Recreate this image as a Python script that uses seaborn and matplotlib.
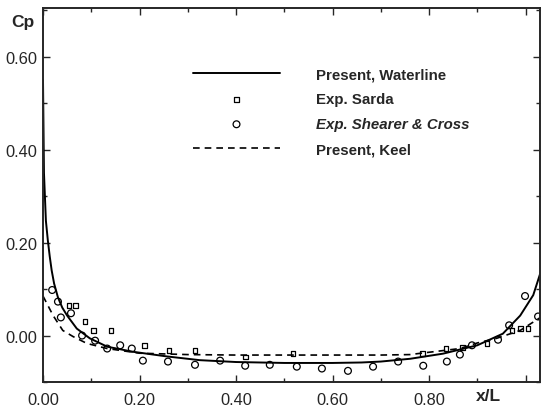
import matplotlib
matplotlib.use('Agg')
import matplotlib.pyplot as plt
import seaborn as sns
import pandas as pd
import numpy as np
from matplotlib.ticker import MultipleLocator, FixedLocator, FixedFormatter

# present computation, waterline
wl_x = [0.0, 0.002, 0.006, 0.010, 0.014, 0.018, 0.023, 0.031, 0.04, 0.05, 0.07, 0.097,
        0.133, 0.187, 0.257, 0.325, 0.40, 0.50, 0.60, 0.66, 0.70, 0.761, 0.829, 0.90,
        0.953, 0.989, 1.016, 1.034]
wl_cp = [0.55, 0.35, 0.247, 0.205, 0.17, 0.14, 0.112, 0.082, 0.06, 0.043, 0.015, -0.006,
         -0.024, -0.035, -0.045, -0.053, -0.057, -0.059, -0.059, -0.058, -0.056, -0.05,
         -0.039, -0.021, 0.004, 0.043, 0.087, 0.145]

# present computation, keel
keel_x = [0.0, 0.008, 0.021, 0.041, 0.062, 0.091, 0.133, 0.2, 0.3, 0.4, 0.5, 0.6,
          0.7, 0.76, 0.80, 0.864, 0.90, 0.94, 0.989, 1.034]
keel_cp = [0.085, 0.069, 0.043, 0.011, -0.002, -0.017, -0.028, -0.038, -0.041, -0.042,
           -0.042, -0.042, -0.042, -0.041, -0.036, -0.028, -0.016, -0.006, 0.011, 0.041]

# experiments, Sarda
sarda_x = [0.054, 0.068, 0.087, 0.104, 0.141, 0.211, 0.261, 0.315, 0.419, 0.518,
           0.786, 0.835, 0.87, 0.92, 0.972, 0.989, 1.005]
sarda_cp = [0.065, 0.065, 0.03, 0.011, 0.011, -0.021, -0.033, -0.033, -0.046, -0.039,
            -0.039, -0.028, -0.026, -0.017, 0.011, 0.015, 0.015]

# experiments, Shearer & Cross
sc_x = [0.019, 0.031, 0.037, 0.058, 0.081, 0.108, 0.133, 0.16, 0.184, 0.207, 0.259,
        0.315, 0.367, 0.419, 0.47, 0.526, 0.578, 0.632, 0.684, 0.736, 0.788, 0.837,
        0.864, 0.889, 0.943, 0.966, 0.999, 1.026]
sc_cp = [0.098, 0.073, 0.039, 0.048, 0.0, -0.011, -0.028, -0.021, -0.028, -0.054, -0.056,
         -0.063, -0.054, -0.065, -0.063, -0.067, -0.071, -0.076, -0.067, -0.056, -0.065, -0.056,
         -0.041, -0.021, -0.009, 0.022, 0.085, 0.041]

xticks = [0.0, 0.2, 0.4, 0.6, 0.8, 1.0]
xticklabels = ['0.00', '0.20', '0.40', '0.60', '0.80', '']
yticks = [0.0, 0.2, 0.4, 0.6]
yticklabels = ['0.00', '0.20', '0.40', '0.60']

sns.set_style('ticks')
plt.rcParams['font.family'] = ['Liberation Sans', 'DejaVu Sans']

fig = plt.figure(figsize=(5.42, 4.10), dpi=100)
ax = fig.add_axes([43 / 542, 1 - 383 / 410, (540 - 43) / 542, (383 - 9) / 410])

wl = pd.DataFrame({'x': wl_x, 'cp': wl_cp})
keel = pd.DataFrame({'x': keel_x, 'cp': keel_cp})
sarda = pd.DataFrame({'x': sarda_x, 'cp': sarda_cp})
sc = pd.DataFrame({'x': sc_x, 'cp': sc_cp})

sns.lineplot(data=wl, x='x', y='cp', sort=False, color='black', lw=1.4, ax=ax,
             label='Present, Waterline')
sns.scatterplot(data=sarda, x='x', y='cp', marker='s', s=12, facecolors='none',
                edgecolor='black', linewidth=0.9, ax=ax, label='Exp. Sarda')
sns.scatterplot(data=sc, x='x', y='cp', marker='o', s=24, facecolors='none',
                edgecolor='black', linewidth=0.9, ax=ax, label='Exp. Shearer & Cross')
sns.lineplot(data=keel, x='x', y='cp', sort=False, color='black', lw=1.2,
             linestyle=(0, (4, 3)), ax=ax, label='Present, Keel')

ax.set_xlim(0, 1.03)
ax.set_ylim(-0.1, 0.705)
ax.xaxis.set_major_locator(FixedLocator(xticks))
ax.xaxis.set_major_formatter(FixedFormatter(xticklabels))
ax.yaxis.set_major_locator(FixedLocator(yticks))
ax.yaxis.set_major_formatter(FixedFormatter(yticklabels))
ax.xaxis.set_minor_locator(MultipleLocator(0.1))
ax.yaxis.set_minor_locator(MultipleLocator(0.1))
ax.tick_params(which='both', direction='in', top=True, right=True, width=1.0,
               labelsize=11.8)
ax.tick_params(which='major', length=5)
ax.tick_params(which='minor', length=3)
ax.tick_params(axis='x', pad=7)
ax.tick_params(axis='y', pad=4)
for sp in ax.spines.values():
    sp.set_linewidth(1.4)
ax.set_xlabel('')
ax.set_ylabel('')

fig.text(23 / 542, 1 - 23 / 410, 'Cp', ha='center', va='center', fontsize=12.5,
         fontweight='bold')
fig.text(488 / 542, 1 - 397 / 410, 'x/L', ha='center', va='center', fontsize=12.5,
         fontweight='bold')

leg = ax.legend(loc='upper left', bbox_to_anchor=(193 / 542, 1 - 68 / 410),
                bbox_transform=fig.transFigure, frameon=False, fontsize=10.8,
                handlelength=5.8, handletextpad=2.4, labelspacing=0.74,
                borderpad=0, borderaxespad=0)
for t in leg.get_texts():
    t.set_fontweight('bold')
    if 'Shearer' in t.get_text():
        t.set_fontstyle('italic')

fig.savefig('out.png', dpi=100)
